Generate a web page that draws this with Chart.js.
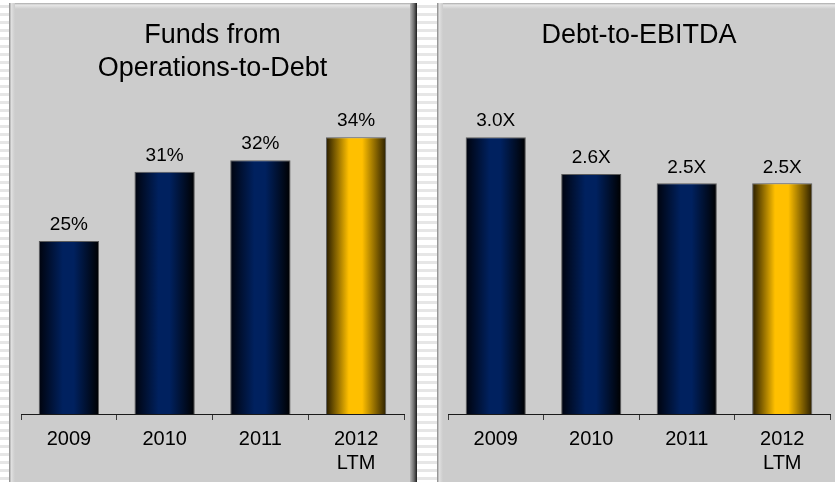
<!DOCTYPE html>
<html>
<head>
<meta charset="utf-8">
<script src="https://cdn.jsdelivr.net/npm/chart.js@4.4.1/dist/chart.umd.min.js"></script>
<style>
  html, body { margin: 0; padding: 0; }
  body {
    width: 835px; height: 482px; overflow: hidden; position: relative;
    background: repeating-linear-gradient(to bottom, #ffffff 0px, #ffffff 5px, #e6e6e6 5px, #e6e6e6 8px);
  }
  .panel { position: absolute; top: 3px; height: 500px; background: #cccccc; }
  #p1 { left: 9px; width: 408px; }
  #p2 { left: 437px; width: 420px; }
  .panel .edgeL { position: absolute; left: 0; top: 0; bottom: 0; width: 6px;
    background: linear-gradient(to right, #8f8f8f 0px, #9d9d9d 1px, #e2e2e2 2px, #d6d6d6 4px, #cccccc 6px); }
  .panel .edgeT { position: absolute; left: 0; right: 0; top: 0; height: 6px;
    background: linear-gradient(to bottom, #a9a9a9 0px, #e6e6e6 2px, #dadada 4px, #cccccc 6px); }
  .panel .edgeR { position: absolute; right: 0; top: 0; bottom: 0; width: 7px;
    background: linear-gradient(to right, #b4b4b4, #6e6e6e 55%, #1c1c1c); }
  canvas { position: absolute; top: 0; }
  #c1 { left: 0; }
  #c2 { left: 417px; }
</style>
</head>
<body>
<div class="panel" id="p1"><div class="edgeT"></div><div class="edgeL"></div><div class="edgeR"></div></div>
<div class="panel" id="p2"><div class="edgeT"></div><div class="edgeL"></div></div>
<canvas id="c1" width="417" height="482"></canvas>
<canvas id="c2" width="418" height="482"></canvas>
<script>
// Categories and series
const categories = ['2009', '2010', '2011', ['2012', 'LTM']];
const ffoToDebt = [25, 31, 32, 34];        // percent
const debtToEbitda = [3.0, 2.6, 2.5, 2.5]; // multiple
const highlightIndex = 3;                  // latest-period bar shown in gold

const FONT = '"Liberation Sans", Arial, Helvetica, sans-serif';
const BAR_PCT = 0.63;

const navyStops = [[0, '#00030d'], [0.4, '#00215f'], [0.58, '#00215f'], [1, '#000000']];
const goldStops = [[0, '#261b00'], [0.38, '#ffc000'], [0.6, '#ffc000'], [1, '#2a1e00']];

function barFill(c) {
  const chart = c.chart;
  if (c.dataIndex === undefined || !chart.chartArea) return '#00215f';
  const xs = chart.scales.x;
  const cx = xs.getPixelForValue(c.dataIndex);
  const w = xs.width / categories.length * BAR_PCT;
  const g = chart.ctx.createLinearGradient(cx - w / 2, 0, cx + w / 2, 0);
  (c.dataIndex === highlightIndex ? goldStops : navyStops).forEach(([o, col]) => g.addColorStop(o, col));
  return g;
}

function valueLabels(fmt) {
  return {
    id: 'valueLabels',
    afterDatasetsDraw(chart) {
      const ctx = chart.ctx;
      const meta = chart.getDatasetMeta(0);
      const vals = chart.data.datasets[0].data;
      ctx.save();
      ctx.font = '19px ' + FONT;
      ctx.fillStyle = '#000000';
      ctx.textAlign = 'center';
      ctx.textBaseline = 'middle';
      meta.data.forEach((bar, i) => ctx.fillText(fmt(vals[i]), bar.x, bar.y - 16));
      ctx.restore();
    }
  };
}

function makeChart(id, title, values, fmt, yMin, yMax, padL, padR, titlePad) {
  return new Chart(document.getElementById(id), {
    type: 'bar',
    data: {
      labels: categories,
      datasets: [{
        data: values,
        backgroundColor: barFill,
        borderColor: '#5c5c5c',
        borderWidth: 1,
        categoryPercentage: 1,
        barPercentage: BAR_PCT
      }]
    },
    options: {
      responsive: false,
      animation: false,
      layout: { padding: { left: padL, right: padR, top: 0, bottom: 0 } },
      plugins: {
        legend: { display: false },
        tooltip: { enabled: false },
        title: {
          display: true,
          text: title,
          color: '#000000',
          font: { family: FONT, size: 27, weight: 'normal', lineHeight: 33 / 27 },
          padding: titlePad
        }
      },
      scales: {
        x: {
          grid: { display: true, drawOnChartArea: false, drawTicks: true, tickLength: 6, color: '#3a3a3a', offset: true },
          border: { display: true, color: '#1a1a1a', width: 1 },
          ticks: { color: '#000000', font: { family: FONT, size: 20, lineHeight: 1.2 }, padding: 7, maxRotation: 0, autoSkip: false },
          afterFit(s) { s.height = 68; }
        },
        y: { display: false, min: yMin, max: yMax }
      }
    },
    plugins: [valueLabels(fmt)]
  });
}

makeChart('c1', ['Funds from', 'Operations-to-Debt'], ffoToDebt, v => v + '%',
  10, 38, 21, 13, { top: 19.5, bottom: 5.5 });
makeChart('c2', 'Debt-to-EBITDA', debtToEbitda, v => v.toFixed(1) + 'X',
  0, 3.5, 31, 5, { top: 19.5, bottom: 38.5 });
</script>
</body>
</html>
